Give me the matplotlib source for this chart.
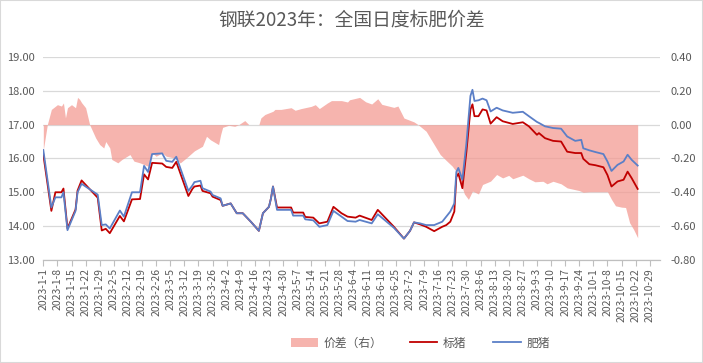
import matplotlib
matplotlib.use('Agg')
import matplotlib.pyplot as plt
from matplotlib.patches import Patch, Rectangle
from matplotlib.lines import Line2D
import pandas as pd

plt.rcParams['font.family'] = ['Noto Sans CJK SC', 'DejaVu Sans']

start = pd.Timestamp('2023-01-01')

# days counted from 2023-01-01
line_days = [0, 4, 6, 9, 10, 12, 16, 17, 19, 27, 29, 31, 33, 38, 40, 44, 48, 50, 52, 54,
             59, 61, 64, 66, 72, 74, 75, 78, 79, 83, 84, 88, 89, 93, 96, 99, 103, 107, 109, 112,
             113, 114, 116, 123, 124, 129, 130, 134, 137, 141, 144, 148, 151, 155, 157, 163, 166, 170, 174, 179,
             182, 184, 187, 190, 194, 198, 200, 202, 204, 205, 206, 208, 210, 212, 213, 214, 216, 218, 220, 222,
             225, 228, 233, 238, 241, 245, 246, 249, 253, 257, 260, 264, 267, 268, 271, 274, 278, 280, 282, 285,
             288, 290, 292, 295]
biao = [16.12, 14.45, 15.00, 15.00, 15.11, 13.93, 14.49, 15.05, 15.35, 14.84, 13.87, 13.92, 13.79, 14.30, 14.14, 14.79, 14.80, 15.53, 15.38, 15.87,
        15.85, 15.75, 15.72, 15.90, 14.89, 15.10, 15.17, 15.20, 15.04, 14.97, 14.87, 14.77, 14.60, 14.67, 14.38, 14.38, 14.13, 13.86, 14.38, 14.57,
        14.82, 15.17, 14.55, 14.55, 14.40, 14.40, 14.27, 14.25, 14.08, 14.13, 14.57, 14.38, 14.28, 14.25, 14.31, 14.18, 14.48, 14.23, 13.98, 13.63,
        13.86, 14.11, 14.05, 13.98, 13.85, 13.98, 14.03, 14.13, 14.43, 15.45, 15.55, 15.12, 16.20, 17.45, 17.60, 17.25, 17.25, 17.45, 17.42, 17.03,
        17.22, 17.10, 17.02, 17.07, 16.95, 16.70, 16.75, 16.60, 16.52, 16.50, 16.20, 16.16, 16.16, 15.99, 15.83, 15.80, 15.74, 15.51, 15.17, 15.32,
        15.37, 15.61, 15.42, 15.10]
fei = [16.25, 14.55, 14.85, 14.85, 15.00, 13.88, 14.45, 15.00, 15.25, 14.93, 14.03, 14.05, 13.93, 14.46, 14.28, 15.00, 15.00, 15.78, 15.60, 16.13,
       16.15, 15.93, 15.90, 16.05, 15.04, 15.20, 15.30, 15.34, 15.12, 15.02, 14.92, 14.82, 14.60, 14.67, 14.38, 14.38, 14.13, 13.86, 14.38, 14.57,
       14.82, 15.17, 14.48, 14.48, 14.31, 14.31, 14.20, 14.17, 13.98, 14.03, 14.45, 14.28, 14.15, 14.13, 14.18, 14.08, 14.35, 14.15, 13.95, 13.63,
       13.86, 14.11, 14.08, 14.03, 14.03, 14.13, 14.28, 14.43, 14.67, 15.60, 15.72, 15.37, 16.45, 17.85, 18.03, 17.70, 17.72, 17.77, 17.72, 17.39,
       17.50, 17.42, 17.35, 17.38, 17.25, 17.08, 17.05, 16.95, 16.90, 16.88, 16.65, 16.52, 16.55, 16.30, 16.24, 16.19, 16.13, 15.91, 15.63, 15.81,
       15.91, 16.11, 15.96, 15.79]

spread_days = [0, 2, 4, 7, 9, 10, 11, 12, 14, 16, 17, 18, 19, 21, 23, 26, 28, 30, 31, 33,
               34, 37, 39, 43, 45, 48, 52, 54, 56, 59, 61, 65, 68, 71, 75, 79, 81, 83, 87, 88,
               89, 92, 95, 97, 100, 102, 107, 108, 110, 114, 115, 118, 123, 125, 128, 133, 135, 137, 141, 143,
               148, 151, 152, 157, 160, 163, 166, 168, 174, 176, 179, 184, 186, 190, 194, 197, 200, 203, 206, 208,
               209, 211, 213, 216, 218, 222, 225, 228, 231, 233, 238, 241, 244, 248, 250, 253, 257, 260, 266, 268,
               271, 277, 280, 282, 284, 287, 289, 291, 293, 295]
spread = [-0.15, 0.00, 0.09, 0.118, 0.11, 0.128, 0.04, 0.10, 0.118, 0.10, 0.161, 0.15, 0.13, 0.10, 0.00, -0.079, -0.118, -0.138, -0.10, -0.138,
          -0.206, -0.226, -0.206, -0.177, -0.216, -0.226, -0.246, -0.167, -0.187, -0.167, -0.187, -0.197, -0.226, -0.197, -0.155, -0.128, -0.069, -0.09, -0.118, -0.06,
          -0.016, -0.004, -0.01, 0.00, 0.024, 0.00, 0.00, 0.04, 0.06, 0.079, 0.09, 0.09, 0.10, 0.085, 0.095, 0.108, 0.118, 0.095, 0.128, 0.142,
          0.142, 0.134, 0.147, 0.161, 0.135, 0.122, 0.153, 0.12, 0.102, 0.11, 0.039, 0.016, 0.00, -0.039, -0.118, -0.177, -0.212, -0.246, -0.295, -0.374,
          -0.41, -0.442, -0.393, -0.41, -0.354, -0.334, -0.295, -0.315, -0.30, -0.32, -0.299, -0.32, -0.338, -0.335, -0.35, -0.335, -0.35, -0.374, -0.39, -0.40,
          -0.397, -0.397, -0.397, -0.442, -0.48, -0.488, -0.49, -0.58, -0.62, -0.669]

line_dates = start + pd.to_timedelta(line_days, unit='D')
spread_dates = start + pd.to_timedelta(spread_days, unit='D')
week_ticks = pd.date_range('2023-01-01', '2023-10-29', freq='7D')
tick_labels = [f'{d.year}-{d.month}-{d.day}' for d in week_ticks]

txt = '#595959'
grid = '#D9D9D9'

fig = plt.figure(figsize=(7.03, 3.63), dpi=100)
ax2 = fig.add_axes([0.0616, 0.284, 0.877, 0.559])
ax = ax2.twinx()
ax.set_zorder(ax2.get_zorder() + 1)
ax.patch.set_visible(False)

# spread area on right axis (drawn underneath)
ax2.fill_between(spread_dates, spread, 0, color='#F39B93', alpha=0.75, linewidth=0)
ax2.set_ylim(-0.8, 0.4)
ax2.set_yticks([-0.8, -0.6, -0.4, -0.2, 0.0, 0.2, 0.4])
ax2.set_yticklabels([f'{v:.2f}' for v in [-0.8, -0.6, -0.4, -0.2, 0.0, 0.2, 0.4]])
ax2.grid(axis='y', color=grid, linewidth=0.9)
ax2.set_axisbelow(True)

ax.plot(line_dates, biao, color='#C00000', linewidth=1.3)
ax.plot(line_dates, fei, color='#5B7FC7', linewidth=1.3)
ax.set_ylim(13, 19)
ax.set_yticks(range(13, 20))
ax.set_yticklabels([f'{v:.2f}' for v in range(13, 20)])

# left axis labels on the left, spread labels on the right
ax.yaxis.tick_left()
ax2.yaxis.tick_right()
ax.yaxis.set_label_position('left')

ax2.set_xlim(start, start + pd.Timedelta(days=306))
ax2.set_xticks(week_ticks)
ax2.set_xticklabels(tick_labels, rotation=90, fontsize=7.5, color=txt)

for a in (ax, ax2):
    for s in ('top', 'left', 'right'):
        a.spines[s].set_visible(False)
    a.spines['bottom'].set_color('#BFBFBF')
    a.tick_params(axis='y', length=0, labelsize=8, labelcolor=txt)
ax.tick_params(axis='y', pad=6)
ax2.tick_params(axis='y', pad=8)
ax2.tick_params(axis='x', length=4, color='#BFBFBF', pad=2)
ax.tick_params(axis='x', length=0)

fig.text(0.5, 0.945, '钢联2023年：全国日度标肥价差', ha='center', va='center',
         fontsize=13.5, color=txt)

handles = [Patch(facecolor='#F39B93', alpha=0.75, edgecolor='none'),
           Line2D([], [], color='#C00000', linewidth=1.3),
           Line2D([], [], color='#5B7FC7', linewidth=1.3)]
fig.legend(handles, ['价差（右）', '标猪', '肥猪'], loc='center', bbox_to_anchor=(0.598, 0.055),
           ncol=3, frameon=False, fontsize=8.5, labelcolor=txt, columnspacing=2.3,
           handlelength=2.3, handletextpad=0.5)

fig.add_artist(Rectangle((0, 0), 1, 1, transform=fig.transFigure, fill=False,
                         edgecolor='#D9D9D9', linewidth=1.5))

fig.savefig('out.png', dpi=100)
